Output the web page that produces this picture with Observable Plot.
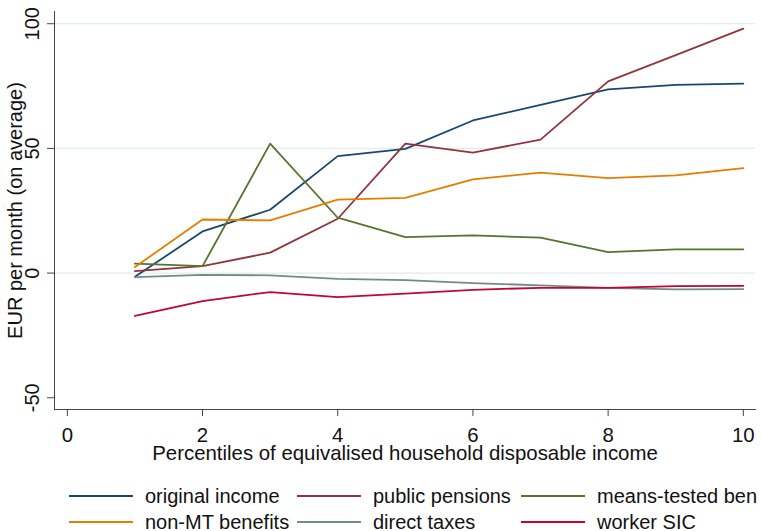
<!DOCTYPE html>
<html>
<head>
<meta charset="utf-8">
<script src="https://cdn.jsdelivr.net/npm/d3@7"></script>
<script src="https://cdn.jsdelivr.net/npm/@observablehq/plot@0.6"></script>
<style>
  html, body { margin: 0; padding: 0; background: #fff; }
  #chart { width: 761px; height: 531px; overflow: hidden; font-family: "Liberation Sans", Arial, sans-serif; }
  #chart svg { display: block; }
  .legend {
    display: grid;
    grid-template-columns: 228px 224px auto;
    grid-auto-rows: 26px;
    padding-left: 69px;
    margin-top: 13px;
    font-size: 20px;
    color: #111;
    white-space: nowrap;
  }
  .legend .item { display: flex; align-items: center; }
  .legend .swatch { width: 64px; height: 0; border-top: 2px solid; margin-right: 12px; }
</style>
</head>
<body>
<div id="chart"></div>
<script>
// Deciles of equivalised household disposable income
const deciles = [1, 2, 3, 4, 5, 6, 7, 8, 9, 10];

// Average change in EUR per month, by decile
const originalIncome = [-1.5, 16.7, 25.4, 46.9, 49.8, 61.2, 67.5, 73.7, 75.5, 76.0];
const publicPensions = [0.8, 2.8, 8.2, 21.8, 51.9, 48.3, 53.5, 76.9, 87.4, 98.0];
const meansTested = [3.8, 2.8, 51.9, 22.2, 14.4, 15.1, 14.2, 8.4, 9.5, 9.5];
const nonMTBenefits = [2.4, 21.5, 21.1, 29.5, 30.2, 37.6, 40.3, 38.1, 39.2, 42.1];
const directTaxes = [-1.6, -0.7, -0.9, -2.3, -2.8, -4.0, -4.9, -5.9, -6.5, -6.4];
const workerSIC = [-17.2, -11.2, -7.6, -9.6, -8.2, -6.7, -5.9, -5.9, -5.2, -5.1];

const seriesNames = ["original income", "public pensions", "means-tested ben",
                     "non-MT benefits", "direct taxes", "worker SIC"];
const seriesValues = [originalIncome, publicPensions, meansTested,
                      nonMTBenefits, directTaxes, workerSIC];
const seriesColors = ["#1a476f", "#90353b", "#55752f", "#e37e00", "#6e8e84", "#c10534"];

const xTicks = [0, 2, 4, 6, 8, 10];
const yTicks = [-50, 0, 50, 100];
const yGrid = [0, 50, 100];

const rows = seriesNames.flatMap((name, i) =>
  deciles.map((d, j) => ({series: name, decile: d, value: seriesValues[i][j]}))
);

const font = "Liberation Sans, Arial, sans-serif";

const plot = Plot.plot({
  width: 761,
  height: 470,
  marginLeft: 54,
  marginRight: 6,
  marginTop: 11,
  marginBottom: 61,
  style: {fontFamily: font, fontSize: "20px", color: "#111", background: "#fff"},
  x: {domain: [-0.19, 10.18]},
  y: {domain: [-54.7, 104.9]},
  color: {domain: seriesNames, range: seriesColors},
  marks: [
    Plot.gridY(yGrid, {stroke: "#e3ebee", strokeOpacity: 1, strokeWidth: 1.2}),
    Plot.frame({anchor: "left", stroke: "#444"}),
    Plot.frame({anchor: "bottom", stroke: "#444"}),
    Plot.axisX(xTicks, {
      tickSize: 7, tickPadding: 11, stroke: "#444", fontSize: 20.4,
      tickFormat: (d) => String(d),
      label: "Percentiles of equivalised household disposable income",
      labelAnchor: "center", labelOffset: 50, labelArrow: "none"
    }),
    Plot.axisY(yTicks, {
      tickSize: 7, tickPadding: 9, tickRotate: -90, stroke: "#444", fontSize: 20,
      tickFormat: (d) => String(d),
      label: "EUR per month (on average)",
      labelAnchor: "center", labelOffset: 47, labelArrow: "none"
    }),
    Plot.line(rows, {x: "decile", y: "value", z: "series", stroke: "series", strokeWidth: 1.8})
  ]
});

const chart = document.getElementById("chart");
chart.appendChild(plot);

// Legend below the plot: three columns, two rows
const legend = document.createElement("div");
legend.className = "legend";
seriesNames.forEach((name, i) => {
  const item = document.createElement("div");
  item.className = "item";
  const sw = document.createElement("span");
  sw.className = "swatch";
  sw.style.borderTopColor = seriesColors[i];
  const label = document.createElement("span");
  label.textContent = name;
  item.appendChild(sw);
  item.appendChild(label);
  legend.appendChild(item);
});
chart.appendChild(legend);
</script>
</body>
</html>
